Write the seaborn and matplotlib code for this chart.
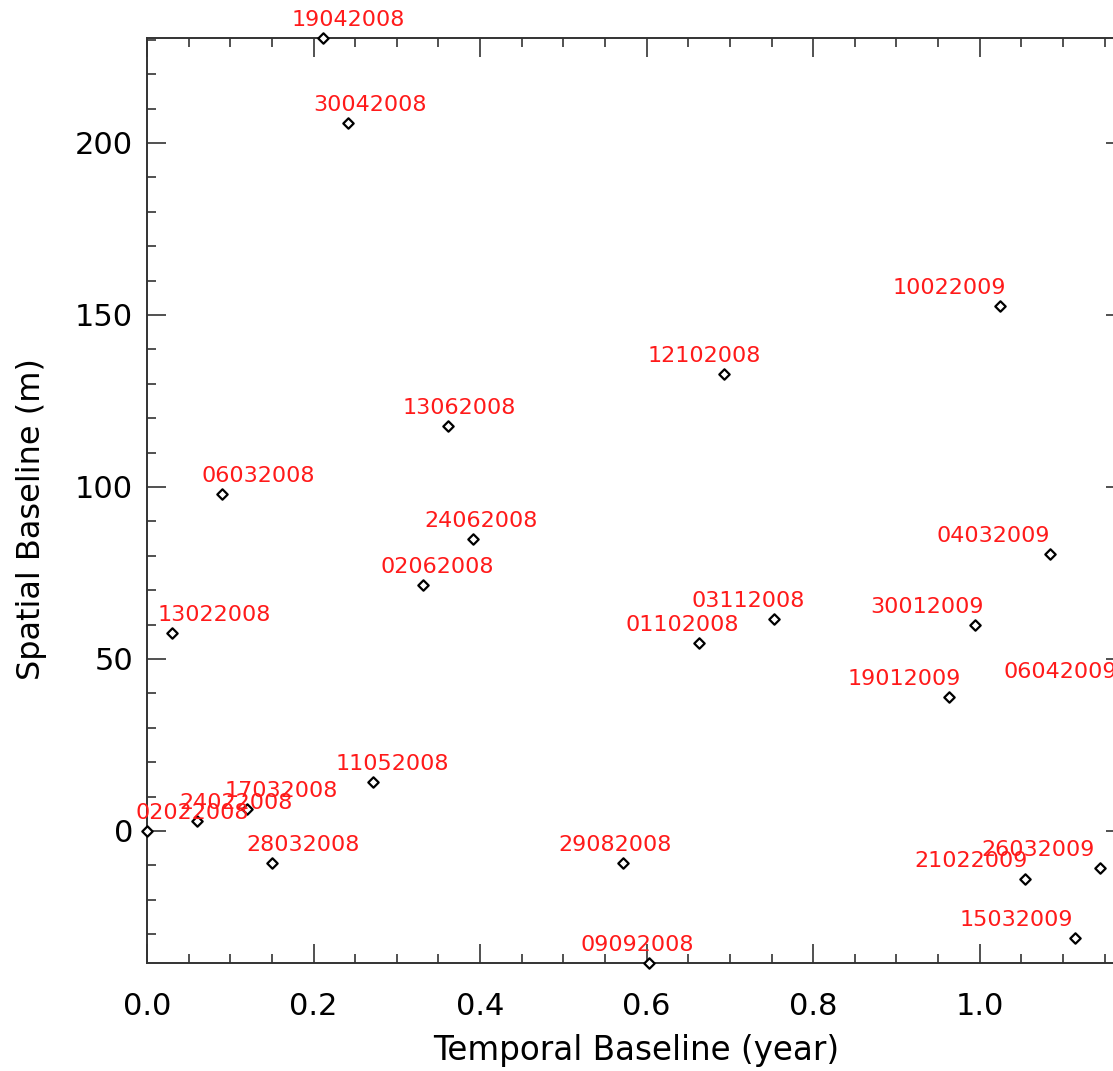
import matplotlib
matplotlib.use("Agg")
import matplotlib.pyplot as plt
import matplotlib.transforms as mtransforms
from matplotlib.ticker import MultipleLocator, FormatStrFormatter
import seaborn as sns
import pandas as pd

# ---- data ----
dates = ["02022008", "13022008", "24022008", "06032008", "17032008", "28032008",
         "19042008", "30042008", "11052008", "02062008", "13062008", "24062008",
         "29082008", "09092008", "01102008", "12102008", "03112008", "19012009",
         "30012009", "10022009", "21022009", "04032009", "15032009", "26032009",
         "06042009"]
temporal = [0.0, 0.0301, 0.0602, 0.0903, 0.1205, 0.1506,
            0.2108, 0.2409, 0.2710, 0.3313, 0.3614, 0.3915,
            0.5722, 0.6023, 0.6626, 0.6927, 0.7529, 0.9637,
            0.9938, 1.0240, 1.0541, 1.0842, 1.1143, 1.1444,
            1.1745]
spatial = [0.0, 57.4, 2.9, 98.0, 6.4, -9.3,
           230.5, 205.8, 14.2, 71.5, 117.7, 84.9,
           -9.4, -38.4, 54.7, 132.8, 61.6, 39.0,
           59.9, 152.6, -14.0, 80.5, -31.1, -10.8,
           40.9]
x_ticks = [0.0, 0.2, 0.4, 0.6, 0.8, 1.0]
y_ticks = [0, 50, 100, 150, 200]

df = pd.DataFrame({"date": dates, "t": temporal, "b": spatial})

sns.set_theme(style="ticks")
plt.rcParams["font.family"] = ["DejaVu Sans"]

fig = plt.figure(figsize=(11.13, 10.71), dpi=100)
ax = fig.add_axes([147 / 1113, 108 / 1071, 978 / 1113, 925 / 1071])

sns.scatterplot(data=df, x="t", y="b", marker="D", s=28, facecolor="white",
                edgecolor="black", linewidth=1.6, ax=ax, clip_on=False, zorder=3)

ax.set_xticks(x_ticks)
ax.set_yticks(y_ticks)
ax.xaxis.set_minor_locator(MultipleLocator(0.05))
ax.yaxis.set_minor_locator(MultipleLocator(10))
ax.xaxis.set_major_formatter(FormatStrFormatter("%.1f"))
ax.set_xlim(min(temporal), max(temporal))
ax.set_ylim(min(spatial), max(spatial))

# labels: IDL-style placement (shifted toward centre), above each point
lab_trans = mtransforms.offset_copy(ax.transData, fig=fig, x=0, y=13, units="points")
for d, t, b in zip(dates, temporal, spatial):
    ax.text(0.054 + 0.888 * t, b, d, transform=lab_trans, ha="center", va="center",
            color="#ff1a1a", fontsize=16, clip_on=False, zorder=4)

ax.tick_params(which="both", direction="in", top=True, right=True, colors="#222222",
               width=1.1, labelsize=22, labelcolor="black")
ax.tick_params(which="major", length=13.5)
ax.tick_params(axis="x", which="major", pad=21)
ax.tick_params(axis="y", which="major", pad=10)
ax.tick_params(which="minor", length=6.5)
for sp in ax.spines.values():
    sp.set_visible(True)
    sp.set_linewidth(1.4)
    sp.set_color("#333333")

ax.set_xlabel("Temporal Baseline (year)", fontsize=23.5, labelpad=9, color="black")
ax.set_ylabel("Spatial Baseline (m)", fontsize=23, color="black")
ax.yaxis.set_label_coords(-0.102, 0.48)
ax.grid(False)

fig.savefig("out.png", dpi=100, facecolor="white")
